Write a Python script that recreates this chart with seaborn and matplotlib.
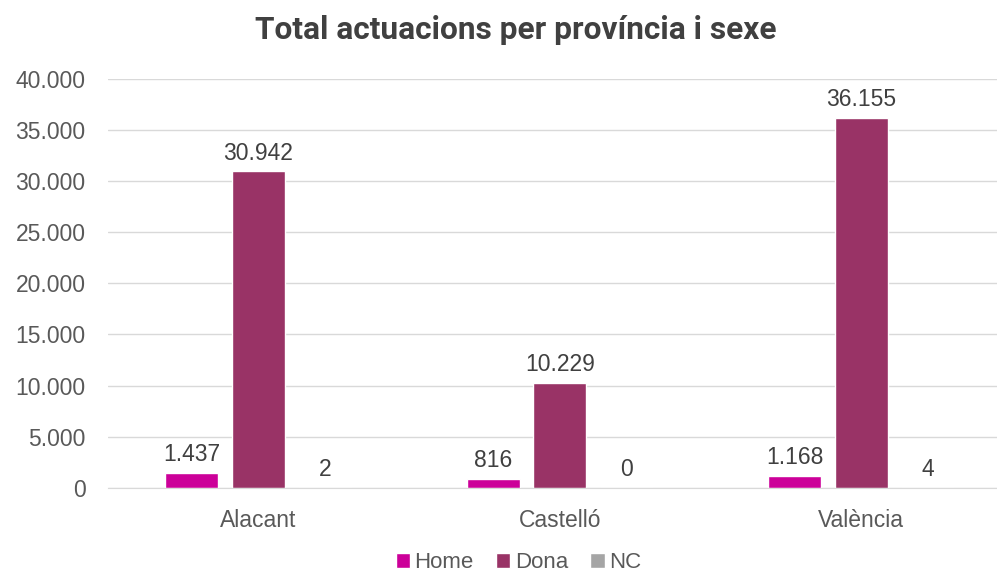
import numpy as np
import pandas as pd
import matplotlib.pyplot as plt
import seaborn as sns

provinces = ['Alacant', 'Castelló', 'València']
home = [1437, 816, 1168]
dona = [30942, 10229, 36155]
nc = [2, 0, 4]
yticks = [0, 5000, 10000, 15000, 20000, 25000, 30000, 35000, 40000]

COLORS = {'Home': '#CC0099', 'Dona': '#993366', 'NC': '#A5A5A5'}
TXT = '#595959'


def fmt(v):
    return f'{v:,.0f}'.replace(',', '.')


df = pd.DataFrame({
    'provincia': provinces * 3,
    'sexe': ['Home'] * 3 + ['Dona'] * 3 + ['NC'] * 3,
    'valor': home + dona + nc,
})

sns.set_style('white')
plt.rcParams['font.family'] = ['Liberation Sans', 'DejaVu Sans']

fig = plt.figure(figsize=(9.97, 5.8), dpi=100)
# plot area runs a bit past the right edge, like the original
ax = fig.add_axes([0.108, 0.159, 0.907, 0.705])

sns.barplot(data=df, x='provincia', y='valor', hue='sexe', palette=COLORS,
            width=0.662, gap=0.2, ax=ax, legend=True, saturation=1)

ax.set_ylim(0, 40000)
ax.set_yticks(yticks)
ax.set_yticklabels([fmt(t) for t in yticks])
ax.yaxis.grid(True, color='#D9D9D9', linewidth=1)
ax.set_axisbelow(True)
for s in ['top', 'right', 'left']:
    ax.spines[s].set_visible(False)
ax.spines['bottom'].set_color('#D9D9D9')
ax.tick_params(axis='both', length=0, labelsize=16.5, labelcolor=TXT)
ax.tick_params(axis='y', pad=16)
ax.tick_params(axis='x', pad=15)
ax.set_xlabel('')
ax.set_ylabel('')

for cont in ax.containers:
    ax.bar_label(cont, labels=[fmt(v) for v in cont.datavalues], padding=5,
                 fontsize=16.5, color='#404040')

fig.text(0.517, 0.948, 'Total actuacions per província i sexe', fontsize=22.8,
         fontweight='bold', color='#404040', ha='center', va='center',
         family=['Roboto', 'DejaVu Sans'])

handles, labels = ax.get_legend_handles_labels()
fig.legend(handles, labels, loc='center', bbox_to_anchor=(0.52, 0.03),
           ncol=3, frameon=False, fontsize=16, labelcolor=TXT,
           handlelength=0.65, handleheight=0.65, handletextpad=0.2,
           columnspacing=1.0, borderpad=0.1)
if ax.get_legend():
    ax.get_legend().remove()

fig.savefig('out.png', dpi=100)
